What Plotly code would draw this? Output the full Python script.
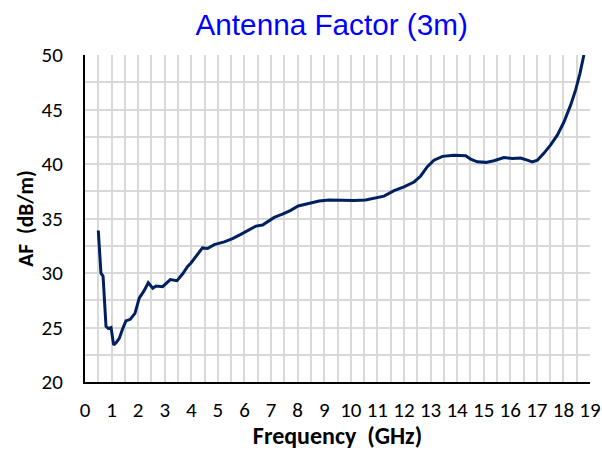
import plotly.graph_objects as go

freq_ghz = [0.50, 0.55, 0.60, 0.68, 0.74, 0.79, 0.88, 0.98, 1.04, 1.08, 1.17, 1.29, 1.42,
            1.54, 1.70, 1.88, 2.04, 2.23, 2.38, 2.55, 2.67, 2.92, 3.21, 3.46, 3.67, 3.86,
            3.98, 4.17, 4.42, 4.61, 4.86, 5.24, 5.55, 5.86, 6.18, 6.43, 6.68, 6.87, 7.12,
            7.43, 7.74, 8.02, 8.31, 8.62, 8.81, 9.18, 9.62, 10.12, 10.56, 10.88, 11.25,
            11.63, 12.00, 12.38, 12.63, 12.88, 13.13, 13.45, 13.88, 14.32, 14.51, 14.76,
            15.08, 15.39, 15.76, 16.08, 16.39, 16.64, 16.83, 17.02, 17.27, 17.52, 17.77,
            18.02, 18.27, 18.46, 18.62, 18.77]
af_db_m = [33.9, 32.0, 30.0, 29.7, 27.5, 25.1, 24.9, 25.0, 24.0, 23.4, 23.6, 24.0, 24.9,
           25.6, 25.75, 26.3, 27.7, 28.4, 29.1, 28.6, 28.8, 28.75, 29.4, 29.3, 29.9, 30.6,
           30.9, 31.5, 32.3, 32.25, 32.6, 32.85, 33.15, 33.55, 34.0, 34.3, 34.4, 34.7, 35.1,
           35.4, 35.75, 36.15, 36.3, 36.45, 36.6, 36.7, 36.65, 36.65, 36.7, 36.85, 37.05,
           37.55, 37.9, 38.35, 38.9, 39.75, 40.35, 40.7, 40.8, 40.75, 40.45, 40.2,
           40.15, 40.3, 40.6, 40.5, 40.55, 40.35, 40.2, 40.35, 41.0, 41.75, 42.65,
           43.85, 45.4, 46.8, 48.3, 50.0]

x_ticks = list(range(0, 20))
y_ticks = [20, 25, 30, 35, 40, 45, 50]

tick_font = dict(family="Carlito, Calibri, Lato, sans-serif", size=21, color="black")
xtitle_font = dict(family="Carlito, Calibri, Lato, sans-serif", size=24, color="black")
ytitle_font = dict(family="Carlito, Calibri, Lato, sans-serif", size=21.5, color="black")
grid = "#d9d9d9"

fig = go.Figure()
fig.add_trace(go.Scatter(x=freq_ghz, y=af_db_m, mode="lines",
                         line=dict(color="#002060", width=3), showlegend=False))

fig.update_layout(
    width=602, height=450,
    margin=dict(l=85, r=12, t=55, b=68),
    paper_bgcolor="white", plot_bgcolor="white",
    title=dict(text="Antenna Factor (3m)", x=331.7 / 602, xanchor="center",
               xref="container", y=1 - 25 / 450, yref="container", yanchor="middle",
               font=dict(family="Liberation Sans, Arial, sans-serif", size=29.7, color="#0000ff")),
)
fig.update_xaxes(
    range=[0, 19], tickvals=x_ticks, ticktext=[str(v) for v in x_ticks],
    showgrid=True, gridcolor=grid, gridwidth=1.5,
    minor=dict(dtick=0.5, tick0=0, showgrid=True, gridcolor=grid, gridwidth=1.5),
    showline=True, linecolor="black", linewidth=2, mirror=False, automargin=False,
    ticks="", tickfont=tick_font, ticklabelstandoff=8, zeroline=False,
    title=dict(text="<b>Frequency\u00a0 (GHz)</b>", font=xtitle_font, standoff=4),
)
fig.update_yaxes(
    range=[20, 50], tickvals=y_ticks, ticktext=[str(v) for v in y_ticks],
    showgrid=True, gridcolor=grid, gridwidth=1.5,
    minor=dict(dtick=2.5, tick0=20, showgrid=True, gridcolor=grid, gridwidth=1.5),
    showline=True, linecolor="black", linewidth=2, mirror=False, automargin=False,
    ticks="", tickfont=tick_font, ticklabelstandoff=16, zeroline=False,
    title=dict(text="<b>AF\u00a0 (dB/m)</b>", font=ytitle_font, standoff=2),
)

fig.write_html("out.html",
               config={"displayModeBar": False},
               post_script="document.body.style.margin='0';document.body.style.overflow='hidden';")
